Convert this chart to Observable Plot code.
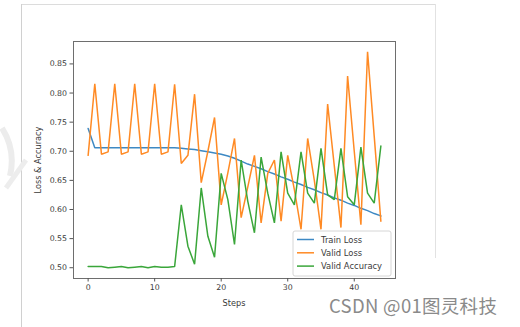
<!DOCTYPE html>
<html><head><meta charset="utf-8">
<script src="https://cdn.jsdelivr.net/npm/d3@7"></script>
<script src="https://cdn.jsdelivr.net/npm/@observablehq/plot@0.6"></script>
<style>
body{margin:0;background:#fff}
#c{position:relative;width:520px;height:327px;overflow:hidden}
#wm{position:absolute;left:329px;top:292px;font:18.5px "Noto Sans CJK SC","DejaVu Sans",sans-serif;color:#8a8a8a;white-space:nowrap;letter-spacing:0.3px}
</style>
</head><body><div id="c"></div>
<script>
const steps = [0,1,2,3,4,5,6,7,8,9,10,11,12,13,14,15,16,17,18,19,20,21,22,23,24,25,26,27,28,29,30,31,32,33,34,35,36,37,38,39,40,41,42,43,44];
const trainLoss = [0.739,0.706,0.706,0.706,0.706,0.706,0.706,0.706,0.706,0.706,0.706,0.706,0.706,0.706,0.705,0.704,0.703,0.701,0.699,0.697,0.695,0.692,0.688,0.683,0.678,0.674,0.670,0.665,0.661,0.656,0.652,0.647,0.643,0.638,0.634,0.629,0.625,0.620,0.616,0.611,0.607,0.602,0.598,0.593,0.589];
const validLoss = [0.693,0.816,0.695,0.699,0.816,0.695,0.699,0.816,0.695,0.699,0.816,0.695,0.699,0.815,0.679,0.693,0.798,0.646,0.700,0.758,0.608,0.663,0.722,0.586,0.639,0.693,0.577,0.662,0.685,0.580,0.693,0.634,0.566,0.722,0.650,0.566,0.781,0.675,0.569,0.829,0.700,0.574,0.871,0.726,0.580];
const validAcc = [0.502,0.502,0.502,0.500,0.501,0.502,0.500,0.501,0.502,0.500,0.502,0.501,0.501,0.502,0.608,0.537,0.506,0.637,0.554,0.518,0.662,0.617,0.540,0.685,0.614,0.560,0.690,0.628,0.577,0.699,0.628,0.608,0.699,0.628,0.611,0.705,0.625,0.617,0.705,0.622,0.608,0.707,0.628,0.611,0.709];
const seriesNames = ["Train Loss","Valid Loss","Valid Accuracy"];
const seriesColors = ["#3d89c4","#ff8a24","#3aa63a"];
const xTicks = [0,10,20,30,40];
const yTicks = [0.50,0.55,0.60,0.65,0.70,0.75,0.80,0.85];
const xLabel = "Steps";
const yLabel = "Loss & Accuracy";
const watermark = "CSDN @01图灵科技";

const allSeries = [trainLoss, validLoss, validAcc];
const rows = [];
allSeries.forEach((vals, si) => vals.forEach((v, i) => rows.push({step: steps[i], value: v, series: seriesNames[si]})));

const W = 520, H = 327;
const mL = 73, mR = 125, mT = 41, mB = 49;
const chart = Plot.plot({
  width: W, height: H,
  marginLeft: mL, marginRight: mR, marginTop: mT, marginBottom: mB,
  style: {fontFamily: "DejaVu Sans, sans-serif", fontSize: "7.8px", color: "#3a3a3a", background: "transparent"},
  x: {domain: [-2.2, 46.2]},
  y: {domain: [0.4815, 0.8885]},
  color: {domain: seriesNames, range: seriesColors},
  marks: [
    Plot.line(rows, {x: "step", y: "value", z: "series", stroke: "series", strokeWidth: 1.5, strokeLinejoin: "miter"}),
    Plot.frame({stroke: "#6e6e6e", strokeWidth: 1}),
    Plot.axisX({ticks: xTicks, tickFormat: d => String(d), tickSize: 3.5, tickPadding: 2.5, label: null, stroke: "#555"}),
    Plot.axisY({ticks: yTicks, tickFormat: d3.format(".2f"), tickSize: 3.5, tickPadding: 3, label: null, stroke: "#555"})
  ]
});
document.getElementById("c").appendChild(chart);
const svg = d3.select(chart);

// background screenshot frame lines
const bg = svg.insert("g", ":first-child");
bg.append("line").attr("x1", 21).attr("x2", 435).attr("y1", 4.5).attr("y2", 4.5).attr("stroke", "#dcdcdc");
bg.append("line").attr("x1", 21.5).attr("x2", 21.5).attr("y1", 4).attr("y2", 327).attr("stroke", "#d0d0d0");
bg.append("line").attr("x1", 435.5).attr("x2", 435.5).attr("y1", 4).attr("y2", 258).attr("stroke", "#e2e2e2");
bg.append("path").attr("d", "M2,128 Q16,150 10,176").attr("fill", "none").attr("stroke", "#ececec").attr("stroke-width", 6);
bg.append("path").attr("d", "M6,188 L26,160").attr("fill", "none").attr("stroke", "#ededed").attr("stroke-width", 5);

// axis labels
svg.append("text").attr("x", (mL + W - mR) / 2).attr("y", 305.5).attr("text-anchor", "middle")
  .attr("font-family", "DejaVu Sans, sans-serif").attr("font-size", 8.2).attr("fill", "#3a3a3a").text(xLabel);
svg.append("text").attr("transform", "translate(41,160) rotate(-90)").attr("text-anchor", "middle")
  .attr("font-family", "DejaVu Sans, sans-serif").attr("font-size", 8.2).attr("fill", "#3a3a3a").text(yLabel);

// legend
const lg = svg.append("g").attr("text-anchor", "start");
lg.append("rect").attr("x", 293).attr("y", 231).attr("width", 98).attr("height", 45).attr("rx", 2)
  .attr("fill", "#fff").attr("fill-opacity", 0.85).attr("stroke", "#d6d6d6");
seriesNames.forEach((n, i) => {
  const y = 239.5 + i * 13.3;
  lg.append("line").attr("x1", 297).attr("x2", 314).attr("y1", y).attr("y2", y).attr("stroke", seriesColors[i]).attr("stroke-width", 1.5);
  lg.append("text").attr("x", 321).attr("y", y + 3).attr("text-anchor", "start").attr("font-family", "DejaVu Sans, sans-serif").attr("font-size", 8.4).attr("fill", "#3a3a3a").text(n);
});

const wm = document.createElement("div");
wm.id = "wm"; wm.textContent = watermark;
document.getElementById("c").appendChild(wm);
</script>
</body></html>
